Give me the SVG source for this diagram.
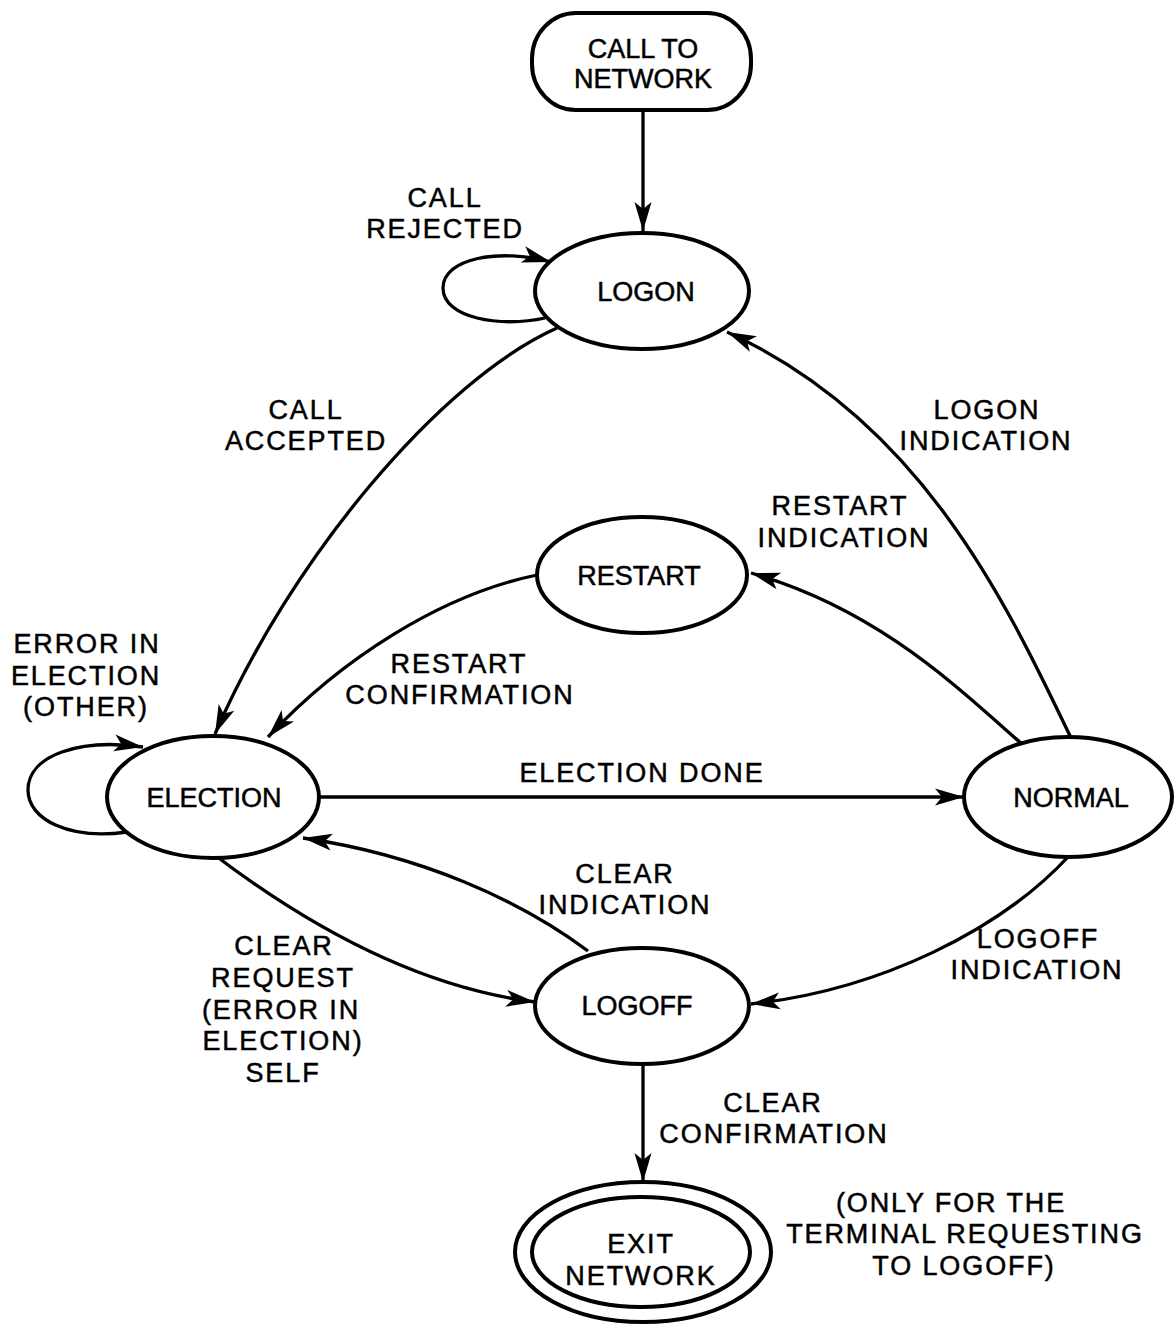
<svg xmlns="http://www.w3.org/2000/svg" width="1174" height="1326" viewBox="0 0 1174 1326">
  <style>
    .state { fill: #fff; stroke: #000; stroke-width: 4; }
    .edge { fill: none; stroke: #000; stroke-width: 3.3; marker-end: url(#arrow); }
    .name { font-family: "Liberation Sans", Arial, sans-serif; font-size: 27px; fill: #000; stroke: #000; stroke-width: 0.5; text-anchor: middle; }
    .lbl { font-family: "Liberation Sans", Arial, sans-serif; font-size: 27px; letter-spacing: 1.9px; fill: #000; stroke: #000; stroke-width: 0.5; text-anchor: middle; }
  </style>
  <defs>
    <!-- notched arrowhead, tip at the path end -->
    <marker id="arrow" markerUnits="userSpaceOnUse" markerWidth="32" markerHeight="20" refX="30" refY="10" orient="auto" overflow="visible">
      <path d="M30,10 L1,1.5 L8,10 L1,18.5 Z" fill="#000"/>
    </marker>
  </defs>
  <rect width="1174" height="1326" fill="#fff"/>

  <!-- connectors -->
  <g id="connectors">
    <path class="edge" d="M643,111 L643,231"/>
    <!-- CALL REJECTED self loop -->
    <path class="edge" d="M545,318 C500,328 443,318 443,288 C443,258 500,248 551,262"/>
    <!-- CALL ACCEPTED -->
    <path class="edge" d="M557,328 C440,380 290,560 215,734"/>
    <!-- LOGON INDICATION -->
    <path class="edge" d="M1071,738 C1005,600 920,420 727,332"/>
    <!-- RESTART INDICATION -->
    <path class="edge" d="M1022,744 C960,690 880,610 751,573"/>
    <!-- RESTART CONFIRMATION -->
    <path class="edge" d="M537,575 C440,595 340,660 268,737"/>
    <!-- ERROR IN ELECTION self loop -->
    <path class="edge" d="M127,832 C70,840 28,820 28,790 C28,755 80,738 143,747"/>
    <!-- ELECTION DONE -->
    <path class="edge" d="M320,797 L964,797"/>
    <!-- CLEAR INDICATION -->
    <path class="edge" d="M588,951 C520,900 420,855 303,838"/>
    <!-- CLEAR REQUEST -->
    <path class="edge" d="M212,853 C280,905 400,985 535,1002"/>
    <!-- LOGOFF INDICATION -->
    <path class="edge" d="M1068,857 C1000,930 880,990 751,1004"/>
    <!-- CLEAR CONFIRMATION -->
    <path class="edge" d="M643,1064 L643,1182"/>
  </g>

  <!-- edge labels -->
  <g id="labels">
    <text class="lbl" x="445" y="207">CALL</text>
    <text class="lbl" x="445" y="238">REJECTED</text>
    <text class="lbl" x="306" y="419">CALL</text>
    <text class="lbl" x="306" y="450">ACCEPTED</text>
    <text class="lbl" x="987" y="419">LOGON</text>
    <text class="lbl" x="986" y="450">INDICATION</text>
    <text class="lbl" x="840" y="515">RESTART</text>
    <text class="lbl" x="844" y="547">INDICATION</text>
    <text class="lbl" x="87" y="653">ERROR IN</text>
    <text class="lbl" x="86" y="685">ELECTION</text>
    <text class="lbl" x="86" y="716">(OTHER)</text>
    <text class="lbl" x="459" y="673">RESTART</text>
    <text class="lbl" x="460" y="704">CONFIRMATION</text>
    <text class="lbl" x="642" y="782">ELECTION DONE</text>
    <text class="lbl" x="625" y="883">CLEAR</text>
    <text class="lbl" x="625" y="914">INDICATION</text>
    <text class="lbl" x="284" y="955">CLEAR</text>
    <text class="lbl" x="283" y="987">REQUEST</text>
    <text class="lbl" x="281" y="1019">(ERROR IN</text>
    <text class="lbl" x="283" y="1050">ELECTION)</text>
    <text class="lbl" x="283" y="1082">SELF</text>
    <text class="lbl" x="1038" y="948">LOGOFF</text>
    <text class="lbl" x="1037" y="979">INDICATION</text>
    <text class="lbl" x="773" y="1112">CLEAR</text>
    <text class="lbl" x="774" y="1143">CONFIRMATION</text>
    <text class="lbl" x="951" y="1212">(ONLY FOR THE</text>
    <text class="lbl" x="965" y="1243">TERMINAL REQUESTING</text>
    <text class="lbl" x="964" y="1275">TO LOGOFF)</text>
  </g>

  <!-- states -->
  <g id="call-to-network">
    <rect class="state" x="532" y="13" width="219" height="97" rx="44" ry="46"/>
    <text class="name" x="643" y="58">CALL TO</text>
    <text class="name" x="643" y="88">NETWORK</text>
  </g>
  <g id="logon">
    <ellipse class="state" cx="642" cy="291" rx="107" ry="58"/>
    <text class="name" x="646" y="301">LOGON</text>
  </g>
  <g id="restart">
    <ellipse class="state" cx="642" cy="575" rx="105" ry="58"/>
    <text class="name" x="639" y="585">RESTART</text>
  </g>
  <g id="election">
    <ellipse class="state" cx="213" cy="797" rx="106" ry="61"/>
    <text class="name" x="214" y="807">ELECTION</text>
  </g>
  <g id="normal">
    <ellipse class="state" cx="1068" cy="797" rx="104" ry="60"/>
    <text class="name" x="1071" y="807">NORMAL</text>
  </g>
  <g id="logoff">
    <ellipse class="state" cx="642" cy="1006" rx="107" ry="58"/>
    <text class="name" x="637" y="1015">LOGOFF</text>
  </g>
  <g id="exit-network">
    <ellipse class="state" cx="643" cy="1252" rx="128" ry="70"/>
    <ellipse class="state" cx="641" cy="1252" rx="109" ry="55"/>
    <text class="lbl" x="641" y="1253">EXIT</text>
    <text class="lbl" x="641" y="1285">NETWORK</text>
  </g>
</svg>
